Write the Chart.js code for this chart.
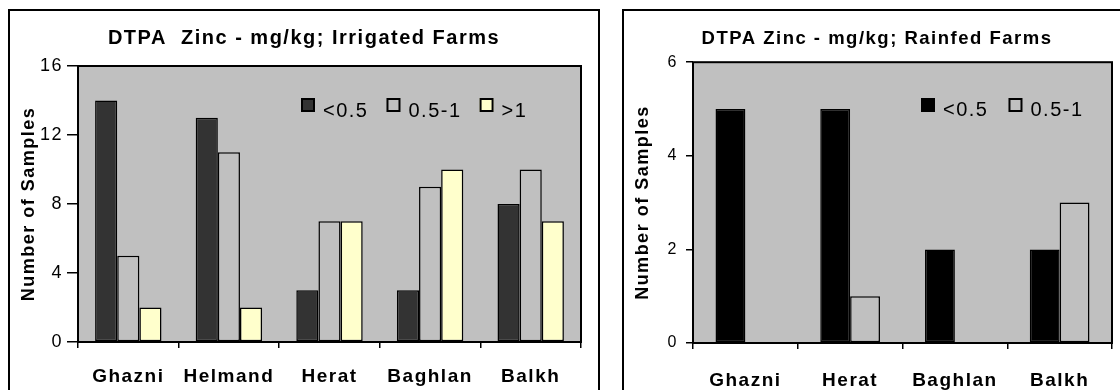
<!DOCTYPE html>
<html>
<head>
<meta charset="utf-8">
<script src="https://cdn.jsdelivr.net/npm/chart.js@4"></script>
<style>
    html, body { margin: 0; padding: 0; background: #fff; overflow: hidden; width: 1120px; height: 390px; }
    .panel { position: absolute; top: 9px; border: 2px solid #000; background: #fff; }
    #irrigatedBox { left: 8px; width: 588px; height: 400px; }
    #rainfedBox { left: 622px; width: 506px; height: 400px; }
    canvas { display: block; }
</style>
</head>
<body>
<div class="panel" id="irrigatedBox"><canvas id="irrigatedChart" width="588" height="379"></canvas></div>
<div class="panel" id="rainfedBox"><canvas id="rainfedChart" width="506" height="379"></canvas></div>
<script>
// Irrigated farms
const irrigatedDistricts = ['Ghazni', 'Helmand', 'Herat', 'Baghlan', 'Balkh'];
const irrigatedLow = [14, 13, 3, 3, 8];     // <0.5
const irrigatedMid = [5, 11, 7, 9, 10];     // 0.5-1
const irrigatedHigh = [2, 2, 7, 10, 7];     // >1
const irrigatedTicks = [0, 4, 8, 12, 16];

// Rainfed farms
const rainfedDistricts = ['Ghazni', 'Herat', 'Baghlan', 'Balkh'];
const rainfedLow = [5, 5, 2, 2];
const rainfedMid = [0, 1, 0, 3];
const rainfedTicks = [0, 2, 4, 6];

const FONT = "'Liberation Sans', Arial, sans-serif";
Chart.defaults.font.family = FONT;
Chart.defaults.color = '#000';

const SPACING = '1.5px';

// wider letter spacing, like the original export
const letterSpacing = {
    id: 'letterSpacing',
    beforeUpdate(chart) { chart.ctx.letterSpacing = SPACING; },
    beforeDraw(chart) { chart.ctx.letterSpacing = SPACING; }
};

// grey plot area with a black frame
const plotFrame = {
    id: 'plotFrame',
    beforeDraw(chart) {
        const {ctx, chartArea: a} = chart;
        ctx.save();
        ctx.fillStyle = '#c0c0c0';
        ctx.fillRect(a.left, a.top, a.right - a.left, a.bottom - a.top);
        ctx.restore();
    },
    afterDatasetsDraw(chart) {
        const {ctx, chartArea: a} = chart;
        ctx.save();
        ctx.strokeStyle = '#000';
        ctx.lineWidth = 2;
        ctx.strokeRect(a.left, a.top, a.right - a.left, a.bottom - a.top);
        ctx.restore();
    }
};

// legend drawn inside the plot area
const insideLegend = {
    id: 'insideLegend',
    afterDatasetsDraw(chart, args, opts) {
        const ctx = chart.ctx;
        ctx.save();
        ctx.letterSpacing = SPACING;
        ctx.font = opts.font;
        ctx.textBaseline = 'alphabetic';
        ctx.textAlign = 'left';
        let x = opts.x;
        chart.data.datasets.forEach(ds => {
            ctx.fillStyle = ds.backgroundColor;
            ctx.fillRect(x, opts.y, 14, 14);
            ctx.strokeStyle = '#000';
            ctx.lineWidth = 2;
            ctx.strokeRect(x + 1, opts.y + 1, 12, 12);
            ctx.fillStyle = '#000';
            ctx.fillText(ds.label, x + 22, opts.y + opts.baseline);
            x += 22 + ctx.measureText(ds.label).width + opts.gap;
        });
        ctx.restore();
    }
};

function barSet(label, data, color) {
    return {
        label: label,
        data: data,
        backgroundColor: color,
        borderColor: '#000',
        borderWidth: 1.5,
        borderSkipped: false
    };
}

function makeOptions(cfg) {
    return {
        responsive: false,
        animation: false,
        events: [],
        layout: { padding: 0 },
        datasets: {
            bar: { categoryPercentage: cfg.groupWidth, barPercentage: 1 }
        },
        plugins: {
            legend: { display: false },
            tooltip: { enabled: false },
            title: {
                display: true,
                text: cfg.title,
                color: '#000',
                font: { size: cfg.titleSize, weight: 'bold' },
                padding: { top: cfg.titleTop, bottom: cfg.titleBottom }
            },
            insideLegend: cfg.legend
        },
        scales: {
            x: {
                grid: { offset: true, drawOnChartArea: false, tickLength: 6, color: '#000', lineWidth: 1.5 },
                border: { display: false },
                ticks: { color: '#000', font: { size: 19, weight: 'bold' }, padding: cfg.xPad, maxRotation: 0, autoSkip: false },
                afterFit: s => { s.height = cfg.xHeight; }
            },
            y: {
                min: 0,
                max: cfg.yTicks[cfg.yTicks.length - 1],
                afterBuildTicks: s => { s.ticks = cfg.yTicks.map(v => ({ value: v })); },
                grid: { drawOnChartArea: false, tickLength: cfg.yTickLen, color: '#000', lineWidth: 1.5 },
                border: { display: false },
                ticks: { color: '#000', font: { size: cfg.yFont }, padding: cfg.yPad },
                title: {
                    display: true,
                    text: 'Number of Samples',
                    color: '#000',
                    font: { size: 18, weight: 'bold' },
                    padding: { top: 8, bottom: 0 }
                },
                afterFit: s => { s.width = cfg.yWidth; }
            },
            spacer: {
                position: 'right',
                grid: { display: false },
                ticks: { display: false },
                border: { display: false },
                afterFit: s => { s.width = cfg.rightGap; }
            }
        }
    };
}

new Chart(document.getElementById('irrigatedChart'), {
    type: 'bar',
    data: {
        labels: irrigatedDistricts,
        datasets: [
            barSet('<0.5', irrigatedLow, '#333333'),
            barSet('0.5-1', irrigatedMid, '#c0c0c0'),
            barSet('>1', irrigatedHigh, '#ffffcc')
        ]
    },
    options: makeOptions({
        title: 'DTPA  Zinc - mg/kg; Irrigated Farms',
        titleSize: 20, titleTop: 15, titleBottom: 16,
        groupWidth: 0.66,
        yTicks: irrigatedTicks, yTickLen: 11, yPad: 4, yFont: 18, yWidth: 68,
        xPad: 17, xHeight: 48, rightGap: 17,
        legend: { x: 291, y: 87, baseline: 19, gap: 18, font: "20px 'Liberation Sans', Arial, sans-serif" }
    }),
    plugins: [letterSpacing, plotFrame, insideLegend]
});

new Chart(document.getElementById('rainfedChart'), {
    type: 'bar',
    data: {
        labels: rainfedDistricts,
        datasets: [
            barSet('<0.5', rainfedLow, '#000000'),
            barSet('0.5-1', rainfedMid, '#c0c0c0')
        ]
    },
    options: makeOptions({
        title: 'DTPA Zinc - mg/kg; Rainfed Farms',
        titleSize: 18.5, titleTop: 17, titleBottom: 12,
        groupWidth: 0.57,
        yTicks: rainfedTicks, yTickLen: 7, yPad: 8, yFont: 16, yWidth: 69,
        xPad: 20, xHeight: 47, rightGap: 18,
        legend: { x: 297, y: 87, baseline: 18, gap: 20, font: "20px 'Liberation Sans', Arial, sans-serif" }
    }),
    plugins: [letterSpacing, plotFrame, insideLegend]
});
</script>
</body>
</html>
